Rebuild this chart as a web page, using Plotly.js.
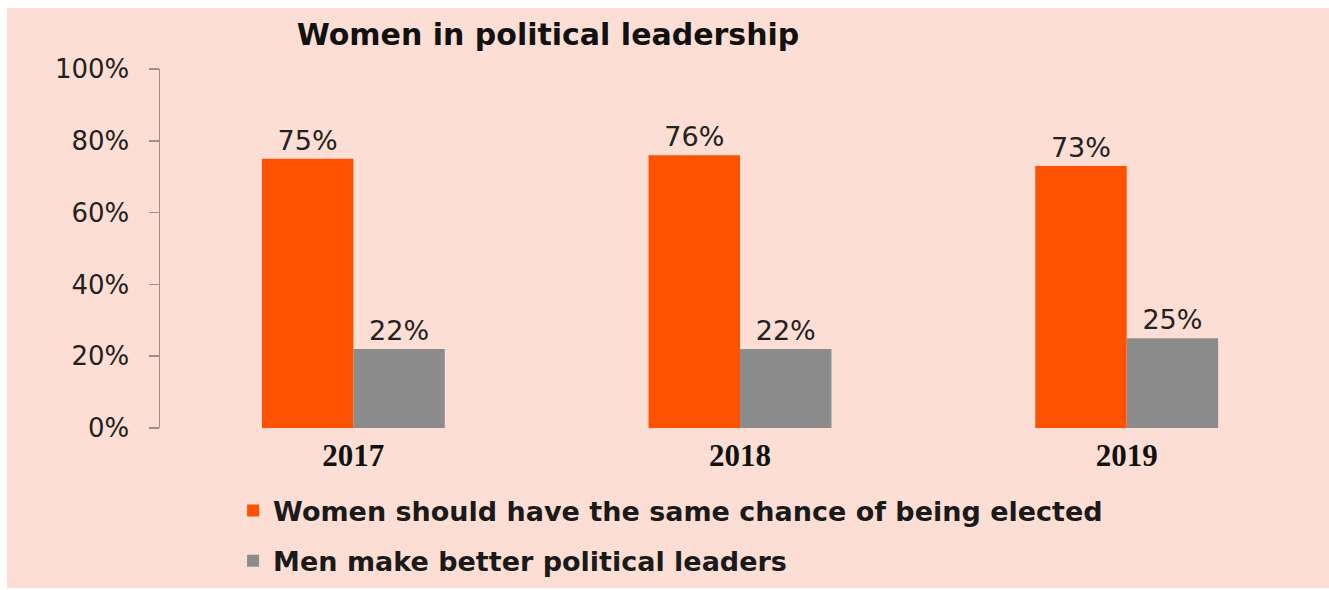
<!DOCTYPE html>
<html>
<head>
<meta charset="utf-8">
<script src="https://cdn.plot.ly/plotly-3.0.1.min.js"></script>
<style>
  html, body { margin: 0; padding: 0; background: #ffffff; width: 1329px; height: 590px; overflow: hidden; }
  #chart { position: absolute; left: 7px; top: 8px; width: 1322px; height: 580px; }
</style>
</head>
<body>
<div id="chart"></div>
<script>
const years = ['2017', '2018', '2019'];
const sameChance = [75, 76, 73];
const menBetter = [22, 22, 25];
const seriesNames = ['Women should have the same chance of being elected', 'Men make better political leaders'];
const yTicks = [0, 20, 40, 60, 80, 100];

const labelFont = { family: 'DejaVu Sans, sans-serif', size: 27, color: '#222222' };

const traces = [
  {
    type: 'bar', x: years, y: sameChance, name: seriesNames[0],
    marker: { color: '#FF5200' },
    texttemplate: '%{y}%', textposition: 'outside', textfont: labelFont,
    cliponaxis: false, legendgroup: 'a', hoverinfo: 'none'
  },
  {
    type: 'bar', x: years, y: menBetter, name: seriesNames[1],
    marker: { color: '#8C8C8C' },
    texttemplate: '%{y}%', textposition: 'outside', textfont: labelFont,
    cliponaxis: false, legendgroup: 'b', hoverinfo: 'none'
  }
];

const layout = {
  width: 1322, height: 580,
  margin: { l: 153, r: 9, t: 61, b: 160, autoexpand: false },
  paper_bgcolor: '#FDDED4',
  plot_bgcolor: 'rgba(0,0,0,0)',
  barmode: 'group', bargap: 0.527, bargroupgap: 0,
  title: {
    text: '<b>Women in political leadership</b>',
    x: 541 / 1322, xanchor: 'center', y: 0.955, yanchor: 'middle',
    xref: 'container', yref: 'container',
    font: { family: 'DejaVu Sans, sans-serif', size: 30, color: '#111111' }
  },
  xaxis: {
    type: 'category', showline: false, ticks: '', showgrid: false, zeroline: false,
    tickfont: { family: 'Liberation Serif, serif', size: 31, color: '#111111', weight: 'bold' },
    ticklabelstandoff: 6
  },
  yaxis: {
    range: [0, 100], tickvals: yTicks, ticktext: yTicks.map(v => v + '%'),
    showline: true, linecolor: '#9E8C87', linewidth: 1.5,
    ticks: 'outside', ticklen: 10, tickwidth: 1.5, tickcolor: '#9E8C87',
    showgrid: false, zeroline: false,
    tickfont: { family: 'DejaVu Sans, sans-serif', size: 26, color: '#222222' },
    ticklabelstandoff: 14
  },
  showlegend: true,
  legend: {
    orientation: 'v', x: 0.063, xanchor: 'left', y: -0.163, yanchor: 'top',
    bgcolor: 'rgba(0,0,0,0)', tracegroupgap: 12, traceorder: 'grouped',
    font: { family: 'DejaVu Sans, sans-serif', size: 27, color: '#1a1a1a', weight: 'bold' }
  }
};

Plotly.newPlot('chart', traces, layout, { displayModeBar: false, staticPlot: true });
</script>
</body>
</html>
